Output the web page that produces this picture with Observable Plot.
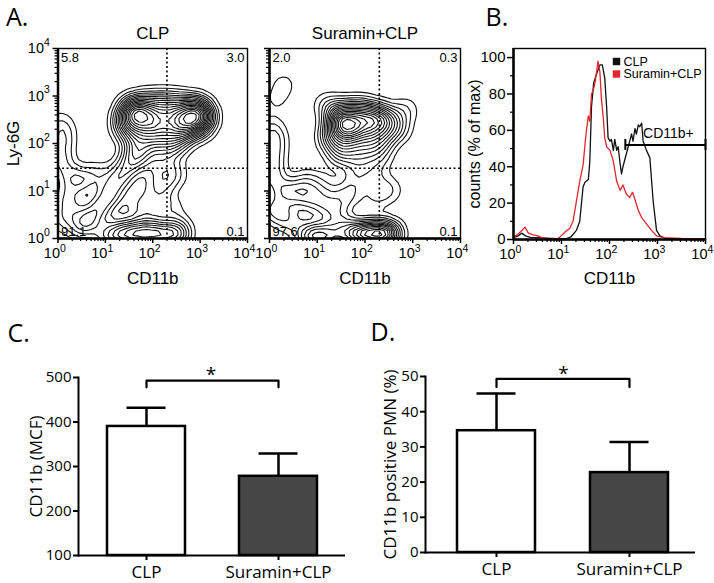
<!DOCTYPE html>
<html><head><meta charset="utf-8">
<script src="https://cdn.jsdelivr.net/npm/d3@7"></script>
<script src="https://cdn.jsdelivr.net/npm/@observablehq/plot@0.6"></script>
<style>
html,body{margin:0;padding:0;background:#fff;}
#fig{position:relative;width:714px;height:583px;background:#fff;overflow:hidden;}
#fig svg{position:absolute;left:0;top:0;max-width:none;}
</style></head><body><div id="fig"></div>
<script>
// ---------------- data ----------------
const samples = ["CLP", "Suramin+CLP"];
const decades = [0, 1, 2, 3, 4];                // log10 tick exponents
// Panel A: quadrant percentages [upper-left, upper-right, lower-left, lower-right]
const quadCLP = ["5.8", "3.0", "91.1", "0.1"];
const quadSuramin = ["2.0", "0.3", "97.6", "0.1"];
const gateCD11b = 2.3;   // log10 CD11b gate (~200)
const gateLy6G = 1.48;   // log10 Ly-6G gate (~30)
// Panel A: event populations [log10 CD11b, log10 Ly-6G, relative weight]
const eventsCLP = [
  [1.4,2.5,2.4],[1.6,2.6,3],[1.82,2.49,4.5],[2.1,2.5,3.4],[2.4,2.5,3.4],[2.67,2.48,4.3],[2.9,2.55,2.8],[3.1,2.55,2.5],
  [1.45,2.25,2],[1.75,2.2,2.5],[2.1,2.2,2.5],[2.45,2.2,2.5],[2.75,2.25,2],[3.0,2.3,1.8],
  [1.55,2.8,2.5],[1.85,2.82,3],[2.2,2.85,3],[2.55,2.82,3],[2.85,2.78,2.4],[3.05,2.75,1.8],
  [2.0,1.95,1.5],[2.3,1.9,1.5],[1.7,1.95,1.2],[2.55,1.95,1.2],
  [1.7,1.65,1.2],[2.0,1.55,1],[2.3,1.5,1],[2.5,1.35,0.8],[2.0,1.1,1],[2.28,1.2,1],[1.72,0.75,0.9],[2.2,0.8,0.9],[1.9,0.5,0.9],[2.45,0.6,0.7],
  [0.5,0.25,1.8],[0.7,0.45,1.8],[0.9,0.7,1.8],[1.1,0.95,1.8],[1.3,1.25,1.8],[1.45,1.5,1.8],[1.6,1.8,1.6],
  [0.15,0.9,1.2],[0.4,1.2,1],[0.1,0.4,1.2],[0.3,0.65,1.1],[0.56,1.23,0.9],[0.75,1.35,0.8],[0.2,1.35,1],[1.0,1.3,0.6],
  [0.05,1.6,1.2],[0.08,1.9,1.2],[0.1,2.2,1.1],[0.05,2.45,0.8],
  [1.2,0.08,2],[1.45,0.1,2.5],[1.7,0.1,2.8],[1.95,0.1,2.8],[2.2,0.1,2.6],[2.45,0.1,2.2],[2.6,0.12,1.5],[0.95,0.05,1.2]
];
const eventsSuramin = [
  [1.68,2.35,4.5],[1.4,2.4,3],[2.0,2.4,3.2],[2.3,2.4,2.5],[1.5,2.65,2.5],[1.85,2.7,2.5],[2.2,2.65,2],[2.5,2.55,1.6],
  [1.3,2.1,2],[1.65,2.0,2.2],[2.05,2.05,2],[2.4,2.1,1.6],[2.7,2.3,1.2],[1.45,1.75,1.4],[1.9,1.7,1.4],[2.3,1.75,1.2],[1.2,2.8,1],[2.85,2.7,0.8],
  [1.8,1.3,1],[1.74,0.9,0.9],[2.2,1.3,0.8],[2.5,1.02,0.9],[2.2,0.8,0.7],
  [0.3,1.0,1.3],[0.6,0.95,1.2],[0.9,0.8,1.2],[1.2,0.7,1.1],[1.45,0.5,1.1],[0.1,0.6,1.3],[0.76,1.2,0.9],[0.4,0.4,1.1],[1.1,1.1,0.8],[1.5,0.9,0.8],
  [0.05,1.3,1.3],[0.08,1.65,1.1],[0.1,2.0,1.2],[0.05,2.3,0.9],[0.3,3.25,0.6],[0.15,2.9,0.5],
  [1.85,0.1,2.5],[2.1,0.1,3],[2.35,0.1,3],[2.55,0.1,2.2],[0.8,0.05,1.8],[1.05,0.05,2],[1.3,0.08,1.5],[1.6,0.12,1.5]
];
// Panel B: histograms [log10 CD11b, counts % of max]
const histCLP = [
  [0,1],[0.1,2],[0.17,3.5],[0.25,2],[0.35,1.2],[0.5,1],[0.7,0.8],[0.9,0.4],[1.1,0.5],[1.2,1.5],
  [1.31,5],[1.38,10],[1.45,29],[1.49,31.5],[1.56,33],[1.59,43],[1.625,73],[1.67,86],[1.73,91],[1.8,96],
  [1.85,96],[1.9,89],[1.94,73],[1.97,56],[2.01,54],[2.04,55],[2.08,49],[2.11,55],[2.15,49],[2.18,51],
  [2.22,42],[2.25,36],[2.28,40],[2.35,47],[2.42,54],[2.46,58],[2.49,54],[2.53,61],[2.56,58],[2.6,63],
  [2.63,62],[2.67,64],[2.7,54],[2.77,49],[2.84,45],[2.91,21],[2.98,5],[3.05,2],[3.19,0.4],[3.5,0.2],[4,0.2]
];
const histSuramin = [
  [0,1.3],[0.1,3],[0.24,6.8],[0.31,3.5],[0.41,2.5],[0.51,2],[0.62,0.8],[0.76,0.4],[0.9,0],[0.965,1.3],
  [1.07,4],[1.17,6],[1.24,10],[1.31,21],[1.38,32],[1.45,41],[1.51,58],[1.56,68],[1.59,65],[1.625,80],
  [1.66,82],[1.69,85],[1.73,92],[1.76,98],[1.8,92],[1.83,78],[1.87,67],[1.9,56],[1.94,51],[2.01,49],
  [2.08,43],[2.15,32],[2.22,27],[2.28,30],[2.35,25],[2.42,23],[2.48,26],[2.53,22],[2.6,16],[2.67,12],
  [2.77,8.6],[2.875,5],[2.98,2],[3.12,1],[3.5,0.6],[4,0.5]
];
const cd11bPlusGate = [2.33, 4];   // log10 range of CD11b+ gate
const cd11bPlusLevel = 52;         // drawn at % of max
// Panels C, D: group means and SEM
const groups = ["CLP", "Suramin+CLP"];
const mcfMean = [390, 278];
const mcfErr = [42, 51];
const pctMean = [34.6, 22.7];
const pctErr = [10.6, 8.7];
const sigLevelC = 493, sigLevelD = 49.3;

// ---------------- helpers ----------------
const W = 714, H = 583;
const fig = document.getElementById("fig");
const minor = decades.slice(0, -1).flatMap(n => [2,3,4,5,6,7,8,9].map(k => n + Math.log10(k)));
const ARIAL = "'Liberation Sans', Arial, sans-serif";
const OPEN = "'Open Sans', sans-serif";
function frameOpts(f) {
  return {width: W, height: H, marginLeft: f.l, marginRight: W - f.r, marginTop: f.t, marginBottom: H - f.b};
}
function logXAxis(withLabels) {
  const m = [
    Plot.axisX(decades, {tickSize: 5, tickFormat: () => "", label: null, strokeWidth: 1.5}),
    Plot.axisX(minor, {tickSize: 3, tickFormat: () => "", label: null, strokeWidth: 1.2})
  ];
  if (withLabels) {
    m.push(Plot.text(decades, {x: d => d, text: () => "10", frameAnchor: "bottom", textAnchor: "end", lineAnchor: "middle", dx: 2, dy: 15, fontSize: 14.5, fontFamily: ARIAL}));
    m.push(Plot.text(decades, {x: d => d, text: d => String(d), frameAnchor: "bottom", textAnchor: "start", lineAnchor: "middle", dx: 2, dy: 10, fontSize: 10.5, fontFamily: ARIAL}));
  }
  return m;
}
function logYAxis(withLabels) {
  const m = [
    Plot.axisY(decades, {tickSize: 5, tickFormat: () => "", label: null, strokeWidth: 1.5}),
    Plot.axisY(minor, {tickSize: 3, tickFormat: () => "", label: null, strokeWidth: 1.2})
  ];
  if (withLabels) {
    m.push(Plot.text(decades, {y: d => d, text: () => "10", frameAnchor: "left", textAnchor: "end", lineAnchor: "middle", dx: -14, dy: 0, fontSize: 14.5, fontFamily: ARIAL}));
    m.push(Plot.text(decades, {y: d => d, text: d => String(d), frameAnchor: "left", textAnchor: "start", lineAnchor: "middle", dx: -14, dy: -6, fontSize: 10.5, fontFamily: ARIAL}));
  }
  return m;
}
function contourPanel({f, title, events, quad, yLabels, letter}) {
  const marks = [
    Plot.density(events, {x: d => d[0], y: d => d[1], weight: d => d[2], bandwidth: 7, thresholds: 18, stroke: "#111", strokeWidth: 1.1, clip: true}),
    Plot.ruleX([gateCD11b], {strokeDasharray: "2,2.5", strokeWidth: 1.6}),
    Plot.ruleY([gateLy6G], {strokeDasharray: "2,2.5", strokeWidth: 1.6}),
    Plot.frame({strokeWidth: 1.4}),
    Plot.ruleX([0], {strokeWidth: 2.5}),
    Plot.ruleY([0], {strokeWidth: 2.5}),
    ...logXAxis(true),
    ...logYAxis(yLabels),
    Plot.text([quad[0]], {text: d => d, frameAnchor: "top-left", textAnchor: "start", lineAnchor: "middle", dx: 3, dy: 9, fontSize: 13, fontFamily: ARIAL}),
    Plot.text([quad[1]], {text: d => d, frameAnchor: "top-right", textAnchor: "end", lineAnchor: "middle", dx: -3, dy: 9, fontSize: 13, fontFamily: ARIAL}),
    Plot.text([quad[2]], {text: d => d, frameAnchor: "bottom-left", textAnchor: "start", lineAnchor: "middle", dx: 3, dy: -7, fontSize: 13, fontFamily: ARIAL}),
    Plot.text([quad[3]], {text: d => d, frameAnchor: "bottom-right", textAnchor: "end", lineAnchor: "middle", dx: -3, dy: -7, fontSize: 13, fontFamily: ARIAL}),
    Plot.text([title], {frameAnchor: "top", textAnchor: "middle", lineAnchor: "middle", dy: -15, fontSize: 17, fontFamily: ARIAL}),
    Plot.text(["CD11b"], {frameAnchor: "bottom", textAnchor: "middle", lineAnchor: "middle", dy: 40, fontSize: 17, fontFamily: ARIAL})
  ];
  if (yLabels) marks.push(Plot.text(["Ly-6G"], {frameAnchor: "left", rotate: -90, textAnchor: "middle", lineAnchor: "middle", dx: -44, fontSize: 17, fontFamily: ARIAL}));
  if (letter) marks.push(Plot.text([letter], {frameAnchor: "top-left", textAnchor: "start", lineAnchor: "middle", dx: -52, dy: -31, fontSize: 25, fontFamily: OPEN}));
  return Plot.plot({
    ...frameOpts(f),
    style: {background: "transparent", fontFamily: ARIAL, overflow: "visible"},
    x: {domain: [0, 4], axis: null},
    y: {domain: [0, 4], axis: null},
    marks
  });
}
function histPanel() {
  const f = {l: 513, r: 705, t: 48, b: 239};
  const table = [
    ...histCLP.map(([x, y]) => ({sample: samples[0], x, y})),
    ...histSuramin.map(([x, y]) => ({sample: samples[1], x, y}))
  ];
  return Plot.plot({
    ...frameOpts(f),
    style: {background: "transparent", fontFamily: ARIAL, overflow: "visible"},
    x: {domain: [0, 4], axis: null},
    y: {domain: [0, 105], axis: null},
    color: {domain: samples, range: ["#111111", "#e3262b"]},
    marks: [
      Plot.line(table, {x: "x", y: "y", z: "sample", stroke: "sample", strokeWidth: 1.3}),
      Plot.ruleY([cd11bPlusLevel], {x1: cd11bPlusGate[0], x2: cd11bPlusGate[1], strokeWidth: 2}),
      Plot.ruleX(cd11bPlusGate, {x: d => d, y1: cd11bPlusLevel - 3, y2: cd11bPlusLevel + 3, strokeWidth: 2}),
      Plot.text(["CD11b+"], {x: (cd11bPlusGate[0] + cd11bPlusGate[1]) / 2, y: cd11bPlusLevel, dx: 3, dy: -11, textAnchor: "middle", lineAnchor: "middle", fontSize: 14, fontFamily: ARIAL}),
      ...samples.map((s, i) => Plot.dot([s], {fill: d => d, symbol: "square", r: 4.2, frameAnchor: "top-right", dx: -89, dy: 13 + 12.5 * i})),
      ...samples.map((s, i) => Plot.text([s], {text: d => d, frameAnchor: "top-right", textAnchor: "start", lineAnchor: "middle", dx: -82, dy: 13 + 12.5 * i, fontSize: 12.5, fontFamily: ARIAL})),
      Plot.frame({strokeWidth: 1.4}),
      Plot.ruleX([0], {strokeWidth: 2.5}),
      Plot.ruleY([0], {strokeWidth: 2.5}),
      ...logXAxis(true),
      Plot.axisY([0, 20, 40, 60, 80, 100], {tickSize: 6, tickPadding: 2, label: null, fontSize: 15, fontFamily: ARIAL, strokeWidth: 1.5}),
      Plot.axisY([10, 30, 50, 70, 90], {tickSize: 3, tickFormat: () => "", label: null, strokeWidth: 1.2}),
      Plot.text(["counts (% of max)"], {frameAnchor: "left", rotate: -90, textAnchor: "middle", lineAnchor: "middle", dx: -39, fontSize: 16, fontFamily: ARIAL}),
      Plot.text(["CD11b"], {frameAnchor: "bottom", textAnchor: "middle", lineAnchor: "middle", dy: 39, fontSize: 17, fontFamily: ARIAL}),
      Plot.text(["B."], {frameAnchor: "top-left", textAnchor: "start", lineAnchor: "middle", dx: -28, dy: -31, fontSize: 25, fontFamily: OPEN})
    ]
  });
}
function barPanel({f, yDomain, yTicks, means, errs, ylabel, ylabelDx, level, tip, letter, letterDx, po, align, starDx}) {
  const rows = groups.map((g, i) => ({group: g, mean: means[i], err: errs[i]}));
  const bracket = [
    {x: groups[0], y: level - tip}, {x: groups[0], y: level},
    {x: groups[1], y: level}, {x: groups[1], y: level - tip}
  ];
  return Plot.plot({
    ...frameOpts(f),
    style: {background: "transparent", fontFamily: OPEN, overflow: "visible"},
    x: {domain: groups, paddingInner: 0.41, paddingOuter: po, align, axis: null},
    y: {domain: yDomain, axis: null},
    color: {domain: groups, range: ["#ffffff", "#464646"]},
    marks: [
      Plot.ruleX(rows, {x: "group", y1: "mean", y2: d => d.mean + d.err, strokeWidth: 2.5}),
      Plot.tickY(rows, {x: "group", y: d => d.mean + d.err, insetLeft: 19.5, insetRight: 19.5, strokeWidth: 2.5}),
      Plot.barY(rows, {x: "group", y1: yDomain[0], y2: "mean", fill: "group", stroke: "#000", strokeWidth: 2.5}),
      Plot.line(bracket, {x: "x", y: "y", strokeWidth: 2.2}),
      Plot.text(["*"], {frameAnchor: "top", textAnchor: "middle", lineAnchor: "top", dx: starDx, dy: -10, fontSize: 19, fontFamily: OPEN}),
      Plot.ruleY([yDomain[0]], {strokeWidth: 2}),
      Plot.frame({anchor: "left", strokeWidth: 2}),
      Plot.axisY(yTicks, {tickSize: 5, tickPadding: 2, label: null, fontSize: 15, fontFamily: OPEN, strokeWidth: 2}),
      Plot.axisX({tickSize: 5, tickPadding: 5, label: null, fontSize: 17, fontFamily: OPEN, strokeWidth: 2}),
      Plot.text([ylabel], {frameAnchor: "left", rotate: -90, textAnchor: "middle", lineAnchor: "middle", dx: ylabelDx, fontSize: 17, fontFamily: OPEN}),
      Plot.text([letter], {frameAnchor: "top-left", textAnchor: "start", lineAnchor: "middle", dx: letterDx, dy: -44, fontSize: 25, fontFamily: OPEN})
    ]
  });
}

// ---------------- render ----------------
fig.appendChild(contourPanel({f: {l: 57.5, r: 247, t: 48, b: 238}, title: samples[0], events: eventsCLP, quad: quadCLP, yLabels: true, letter: "A."}));
fig.appendChild(contourPanel({f: {l: 269, r: 460, t: 48, b: 238}, title: samples[1], events: eventsSuramin, quad: quadSuramin, yLabels: false}));
fig.appendChild(histPanel());
fig.appendChild(barPanel({f: {l: 78, r: 345, t: 377, b: 555}, yDomain: [100, 500], yTicks: [100, 200, 300, 400, 500],
  means: mcfMean, errs: mcfErr, ylabel: "CD11b (MCF)", ylabelDx: -42, level: sigLevelC, tip: 15, letter: "C.", letterDx: -71, po: 0.21, align: 0.5, starDx: -1}));
fig.appendChild(barPanel({f: {l: 425, r: 695, t: 376, b: 552}, yDomain: [0, 50], yTicks: [0, 10, 20, 30, 40, 50],
  means: pctMean, errs: pctErr, ylabel: "CD11b positive PMN (%)", ylabelDx: -35, level: sigLevelD, tip: 2.3, letter: "D.", letterDx: -55, po: 0.22, align: 0.55, starDx: 3}));
</script></body></html>
